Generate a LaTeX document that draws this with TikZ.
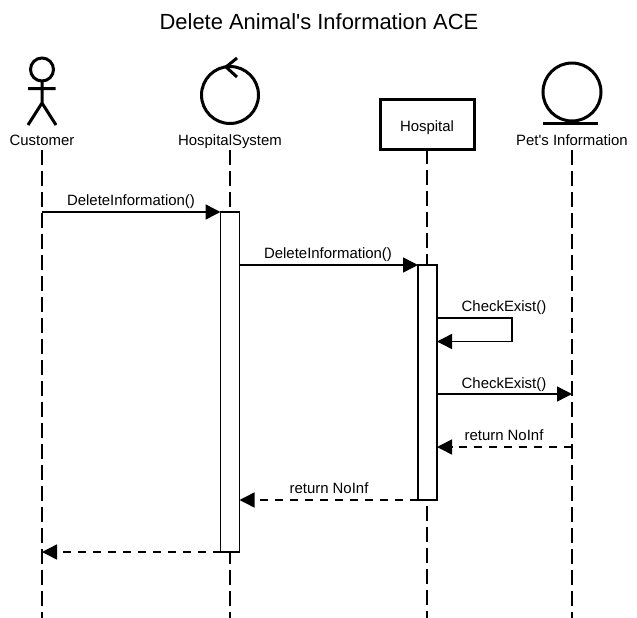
\documentclass[tikz,border=0pt]{standalone}
\usepackage{fontspec}
\setmainfont{Liberation Sans}
\usetikzlibrary{arrows.meta}
\usetikzlibrary{positioning}
\begin{document}
\begin{tikzpicture}[line cap=butt,line join=miter,x=0.75pt,y=-0.75pt,
  >={Triangle[length=11.25pt,width=11.25pt]},
  figure/.style={line width=2.25pt},
  lifeline/.style={line width=1.1pt,dash pattern=on 11.25pt off 4.5pt},
  message/.style={line width=1.1pt,->},
  reply/.style={line width=1.1pt,->,dash pattern=on 6pt off 5.25pt},
  label/.style={inner sep=0pt,anchor=base,font=\fontsize{11.2}{13}\selectfont},
  activation/.style={draw,fill=white,line width=1.1pt,outer sep=0pt,minimum width=14.25pt,inner sep=0pt}]
\useasboundingbox (0,0) rectangle (637,618);
\node[inner sep=0pt,anchor=base,font=\fontsize{16.45}{20}\selectfont] (title) at (319,29) {Delete Animal\textquotesingle s Information ACE};
\node[label] (customer) at (42,145) {Customer};
\node[label] (hospitalsystem) at (230,145) {HospitalSystem};
\node[draw,line width=2.25pt,outer sep=0pt,inner sep=0pt,minimum width=71pt,minimum height=37.5pt] (hospital) at (427.5,124) {};
\node[label] (hospitallabel) at (427,131) {Hospital};
\node[label] (petinfo) at (572,145) {Pet\textquotesingle s Information};
\draw[figure] (42,69.5) circle [radius=11.5];
\draw[figure] (42,81) -- (42,103) (28,88.5) -- (55.5,88.5) (28,125) -- (42,103) -- (56,125);
\draw[figure] (230,95) circle [radius=28.5];
\draw[figure] (237,58) -- (226,67) -- (237,77);
\draw[figure] (572,92) circle [radius=29];
\draw[figure] (543,123) -- (598,123);
\coordinate (customertop) at (42,150);
\coordinate (systemtop) at (230,150);
\coordinate (petinfotop) at (572,150);
\coordinate (customerend) at (42,618);
\coordinate (systemend) at (230,618);
\coordinate (hospitalend) at (427,618);
\coordinate (petinfoend) at (572,618);
\draw[lifeline] (customertop) -- (customerend);
\draw[lifeline] (systemtop) -- (systemend);
\draw[lifeline] (hospitallabel |- hospital.south) -- (hospitalend);
\draw[lifeline] (petinfotop) -- (petinfoend);
\node[activation,minimum height=255pt] (act1) at (230,382) {};
\node[activation,minimum height=176.25pt] (act2) at (427.5,382.5) {};
\coordinate (start1) at (42,212);
\coordinate (turn1) at (512,318);
\coordinate (turn2) at (512,341.5);
\coordinate (check) at (572,394);
\coordinate (back) at (572,447);
\coordinate (finish) at (42,552);
\draw[message] (start1) -- (act1.north west);
\draw[message] (act1.east |- act2.north) -- (act2.north west);
\draw[message] (act2.east |- turn1) -- (turn1) -- (turn2) -- (act2.east |- turn2);
\draw[message] (act2.east |- check) -- (check);
\draw[reply] (back) -- (act2.east |- back);
\draw[reply] (act2.south west) -- (act1.east |- act2.south);
\draw[reply] (act1.south west) -- (finish);
\node[label] (msg1) at (131,205) {DeleteInformation()};
\node[label] (msg2) at (328,258) {DeleteInformation()};
\node[label] (msg3) at (504,311) {CheckExist()};
\node[label] (msg4) at (504,388) {CheckExist()};
\node[label] (msg5) at (504,440) {return NoInf};
\node[label] (msg6) at (329,493) {return NoInf};
\end{tikzpicture}
\end{document}
